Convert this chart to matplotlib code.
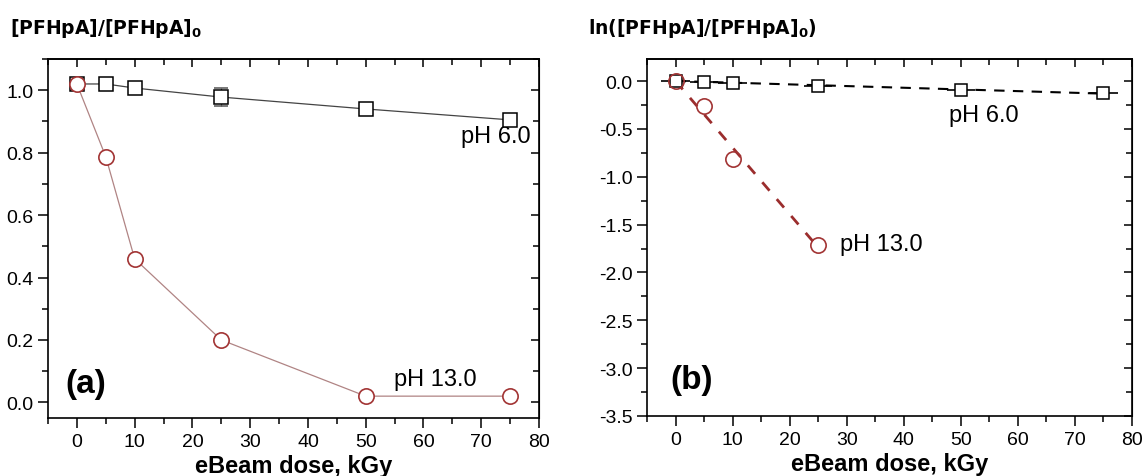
import numpy as np
import matplotlib
matplotlib.use("Agg")
import matplotlib.pyplot as plt
from matplotlib.ticker import MultipleLocator

# ---- data ----
dose = [0, 5, 10, 25, 50, 75]
ph6_ratio = [1.02, 1.02, 1.007, 0.978, 0.94, 0.905]
ph6_err = [0.005, 0.01, 0.005, 0.029, 0.01, 0.01]
ph13_ratio = [1.02, 0.787, 0.46, 0.20, 0.02, 0.02]
ph13_err = [0.005, 0.005, 0.005, 0.012, 0.003, 0.003]

dose_ln6 = [0, 5, 10, 25, 50, 75]
ph6_ln = [0.0, -0.01, -0.02, -0.05, -0.095, -0.125]
dose_ln13 = [0, 5, 10, 25]
ph13_ln = [0.0, -0.265, -0.81, -1.71]

xticks = [0, 10, 20, 30, 40, 50, 60, 70, 80]
yticks_a = [0.0, 0.2, 0.4, 0.6, 0.8, 1.0]
yticks_b = [0.0, -0.5, -1.0, -1.5, -2.0, -2.5, -3.0, -3.5]

RED = "#a23434"
LINE_RED = "#b08484"
DASH_RED = "#9b2d2d"

plt.rcParams['font.family'] = ['Liberation Sans', 'DejaVu Sans']

fig = plt.figure(figsize=(11.45, 4.77), dpi=100)
axa = fig.add_axes([48/1145, 1-419/477, (539-48)/1145, (419-60)/477])
axb = fig.add_axes([647/1145, 1-417/477, (1132-647)/1145, (417-60)/477])


def style(ax):
    for s in ax.spines.values():
        s.set_linewidth(1.2)
    ax.xaxis.set_major_locator(MultipleLocator(10))
    ax.xaxis.set_minor_locator(MultipleLocator(5))
    ax.tick_params(axis='both', which='major', direction='out', length=7, width=1.1,
                   labelsize=14, top=False, right=False)
    ax.tick_params(axis='both', which='minor', direction='out', length=4, width=1.1,
                   top=False, right=False)
    ax.set_xticks(xticks)
    ax.set_xlim(-5, 80)
    ax.set_xlabel("eBeam dose, kGy", fontsize=17, fontweight='bold', labelpad=3)
    sx = ax.secondary_xaxis('top')
    sx.set_xticks(xticks)
    sx.xaxis.set_minor_locator(MultipleLocator(5))
    sx.tick_params(which='major', direction='in', length=6, width=1.1, labeltop=False)
    sx.tick_params(which='minor', direction='in', length=4, width=1.1)
    sx.spines['top'].set_linewidth(1.2)
    return sx


style(axa)
style(axb)

# ---- panel (a) ----
axa.set_ylim(-0.05, 1.1)
axa.set_yticks(yticks_a)
axa.yaxis.set_minor_locator(MultipleLocator(0.1))
axa.yaxis.set_major_formatter(matplotlib.ticker.FormatStrFormatter('%.1f'))
sya = axa.secondary_yaxis('right')
sya.set_yticks(yticks_a)
sya.yaxis.set_minor_locator(MultipleLocator(0.1))
sya.tick_params(which='major', direction='in', length=6, width=1.1, labelright=False)
sya.tick_params(which='minor', direction='in', length=4, width=1.1)

axa.plot(dose, ph6_ratio, color='#444444', lw=0.9, zorder=2)
axa.errorbar(dose, ph6_ratio, yerr=ph6_err, fmt='s', ms=10, mfc='white', mec='black',
             mew=1.1, ecolor='#555555', elinewidth=0.9, capsize=5, zorder=3)
axa.plot(dose, ph13_ratio, color=LINE_RED, lw=0.9, zorder=2)
axa.errorbar(dose, ph13_ratio, yerr=ph13_err, fmt='o', ms=11, mfc='white', mec=RED,
             mew=1.2, ecolor=LINE_RED, elinewidth=0.9, capsize=3, zorder=4)

axa.text(72.5, 0.852, "pH 6.0", fontsize=17, ha='center', va='center')
axa.text(62, 0.075, "pH 13.0", fontsize=17, ha='center', va='center')
axa.text(1.5, 0.062, "(a)", fontsize=24, fontweight='bold', ha='center', va='center')

# ---- panel (b) ----
axb.set_ylim(-3.5, 0.23)
axb.set_yticks(yticks_b)
axb.yaxis.set_minor_locator(MultipleLocator(0.25))
axb.yaxis.set_major_formatter(matplotlib.ticker.FormatStrFormatter('%.1f'))
syb = axb.secondary_yaxis('right')
syb.set_yticks(yticks_b)
syb.yaxis.set_minor_locator(MultipleLocator(0.25))
syb.tick_params(which='major', direction='in', length=6, width=1.1, labelright=False)
syb.tick_params(which='minor', direction='in', length=4, width=1.1)

x6 = np.array(dose_ln6, float)
y6 = np.array(ph6_ln, float)
k6 = np.sum(x6 * y6) / np.sum(x6 * x6)
x13 = np.array(dose_ln13, float)
y13 = np.array(ph13_ln, float)
k13 = np.sum(x13 * y13) / np.sum(x13 * x13)

axb.plot([x6[0], x6[-1]], [k6 * x6[0], k6 * x6[-1]], color='black', lw=1.5,
         dashes=(5, 4), zorder=2)
axb.plot([x13[0], x13[-1]], [k13 * x13[0], k13 * x13[-1]], color=DASH_RED, lw=2,
         dashes=(4, 4), zorder=2)
axb.errorbar(x6, y6, xerr=2.5, fmt='s', ms=9, mfc='white', mec='black', mew=1.1,
             ecolor='black', elinewidth=1.2, capsize=0, zorder=3)
axb.plot(x13, y13, 'o', ms=11, mfc='none', mec=RED, mew=1.2, zorder=4)

axb.text(54, -0.36, "pH 6.0", fontsize=17, ha='center', va='center')
axb.text(36, -1.70, "pH 13.0", fontsize=17, ha='center', va='center')
axb.text(2.8, -3.12, "(b)", fontsize=24, fontweight='bold', ha='center', va='center')

# ---- titles (y labels on top) ----
fig.text(10/1145, 1-28/477, r"[PFHpA]/[PFHpA]$_\mathbf{0}$", fontsize=13.5, fontweight='bold',
         ha='left', va='center', family=['DejaVu Sans'])
fig.text(588/1145, 1-28/477, r"ln([PFHpA]/[PFHpA]$_\mathbf{0}$)", fontsize=13.5, fontweight='bold',
         ha='left', va='center', family=['DejaVu Sans'])

fig.savefig("out.png", dpi=100)
